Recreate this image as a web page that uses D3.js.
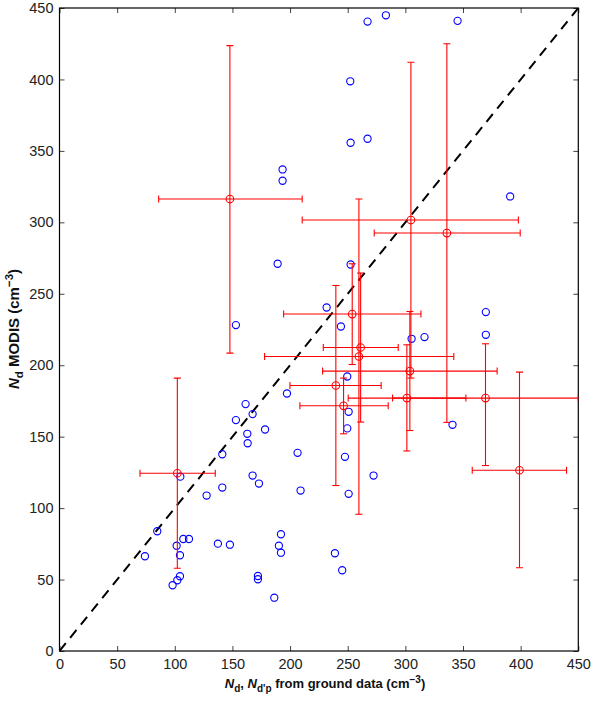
<!doctype html>
<html>
<head>
<meta charset="utf-8"/>
<title>Nd MODIS vs ground</title>
<script src="https://d3js.org/d3.v7.min.js"></script>
<style>
body{margin:0;background:#fff;}
.tick text{font-family:"Liberation Sans",Arial,Helvetica,sans-serif;font-size:14.5px;fill:#222;}
.lbl{font-family:"Liberation Sans",Arial,Helvetica,sans-serif;font-weight:bold;fill:#111;}
</style>
</head>
<body>
<script>
// ticks
var tickVals = [0,50,100,150,200,250,300,350,400,450];

// blue points: single retrievals
var blueX = [153,162.9,163.2,178.3,141.2,206.5,104.8,167.5,173,209.1,141.2,127.6,84.8,192.1,190.3,192.1,137.4,147.8,74.1,101.6,107.4,112.3,104.5,104.5,102.2,98.1,172.1,172.1,186.3,193.5,193.5,267.2,283.1,345.3,252.2,252.5,267.2,390.9,252.5,231.7,244.1,305.4,316.6,369.8,369.8,249.6,250.8,249.6,340.9,247.6,272.4,250.8,238.9,245.2,189.2,153,197.3,161.4,167.5];
var blueY = [161.6,152,145.4,155,137.7,138.7,122,122.8,117.2,112.3,114.4,108.8,83.8,81.7,73.7,68.8,75.1,74.4,66.3,73.7,78.4,78.4,67,52.3,49.5,46,52.5,50.2,37.3,337,329.1,440.5,444.9,441,398.7,355.7,358.5,318.1,270.5,240.4,227.1,218.5,219.7,237.2,221.3,192.1,167.4,155.8,158.3,135.9,122.8,110,68.4,56.5,271,228.1,180.2,172.8,165.8];

// red points: means with error bars
var redX   = [102.2,147.8,304.8,336,253.9,261.2,259.7,303.9,239.7,246.4,301.3,369.5,399];
var redY   = [124.4,316.3,301.6,292.5,235.8,212.4,206.1,195.9,185.8,171.6,177,177,126.5];
var redXLo = [69.8,86,210.5,273,194.4,228.8,177.9,228.2,199.9,208.5,250.4,288.9,358];
var redXHi = [135.1,210.5,398,399.6,313.5,293.8,342,379.6,279,285.1,352.5,450,439.8];
var redYLo = [57.9,208.5,191,160,200.5,160.2,95.7,154.3,115.8,152,140,129.8,58.3];
var redYHi = [191,423.7,412,425,271,264.5,316.3,237.6,255.8,191,214.3,215,195.2];

var W = 593, H = 701;
var m = {left:59.5, right:14.7, top:8, bottom:50};
var pw = W - m.left - m.right, ph = H - m.top - m.bottom;

var svg = d3.select("body").append("svg")
    .attr("width", W)
    .attr("height", H);

var g = svg.append("g").attr("transform", "translate(" + m.left + "," + m.top + ")");

var x = d3.scaleLinear().domain([0,450]).range([0,pw]);
var y = d3.scaleLinear().domain([0,450]).range([ph,0]);

// axes, ticks pointing inward
g.append("g").attr("transform","translate(0,"+ph+")")
    .call(d3.axisBottom(x).tickValues(tickVals).tickSize(-5).tickSizeOuter(0).tickPadding(8));
g.append("g")
    .call(d3.axisLeft(y).tickValues(tickVals).tickSize(-5).tickSizeOuter(0).tickPadding(6));
g.append("g")
    .call(d3.axisTop(x).tickValues(tickVals).tickSize(-5).tickSizeOuter(0).tickFormat(""));
g.append("g").attr("transform","translate("+pw+",0)")
    .call(d3.axisRight(y).tickValues(tickVals).tickSize(-5).tickSizeOuter(0).tickFormat(""));
g.selectAll(".domain").remove();
g.selectAll(".tick line").attr("stroke","#444");

g.append("rect")
    .attr("x",0).attr("y",0).attr("width",pw).attr("height",ph)
    .attr("fill","none").attr("stroke","#000").attr("stroke-width",1.2);

var clip = svg.append("defs").append("clipPath").attr("id","plotclip");
clip.append("rect").attr("x",0).attr("y",0).attr("width",pw).attr("height",ph);

var p = g.append("g").attr("clip-path","url(#plotclip)");

// 1:1 line
p.append("line")
    .attr("x1", x(0)).attr("y1", y(0))
    .attr("x2", x(450)).attr("y2", y(450))
    .attr("stroke","#000").attr("stroke-width",2)
    .attr("stroke-dasharray","10,7");

// blue circles
p.selectAll("circle.blue")
    .data(blueX)
    .enter()
    .append("circle")
    .attr("class","blue")
    .attr("cx", function(d,i){ return x(blueX[i]); })
    .attr("cy", function(d,i){ return y(blueY[i]); })
    .attr("r", 3.6)
    .attr("fill","none")
    .attr("stroke","#0000ff")
    .attr("stroke-width",1.1);

// red error bars
var cap = 3.5;
var eb = p.selectAll("g.err")
    .data(redX)
    .enter()
    .append("g")
    .attr("class","err")
    .attr("stroke","#ff0000")
    .attr("stroke-width",1.1)
    .attr("fill","none");

eb.append("line")
    .attr("x1", function(d,i){ return x(redXLo[i]); })
    .attr("x2", function(d,i){ return x(redXHi[i]); })
    .attr("y1", function(d,i){ return y(redY[i]); })
    .attr("y2", function(d,i){ return y(redY[i]); });
eb.append("line")
    .attr("x1", function(d,i){ return x(redX[i]); })
    .attr("x2", function(d,i){ return x(redX[i]); })
    .attr("y1", function(d,i){ return y(redYLo[i]); })
    .attr("y2", function(d,i){ return y(redYHi[i]); });
// caps
[redXLo, redXHi].forEach(function(arr){
  eb.append("line")
    .attr("x1", function(d,i){ return x(arr[i]); })
    .attr("x2", function(d,i){ return x(arr[i]); })
    .attr("y1", function(d,i){ return y(redY[i]) - cap; })
    .attr("y2", function(d,i){ return y(redY[i]) + cap; });
});
[redYLo, redYHi].forEach(function(arr){
  eb.append("line")
    .attr("x1", function(d,i){ return x(redX[i]) - cap; })
    .attr("x2", function(d,i){ return x(redX[i]) + cap; })
    .attr("y1", function(d,i){ return y(arr[i]); })
    .attr("y2", function(d,i){ return y(arr[i]); });
});
eb.append("circle")
    .attr("cx", function(d,i){ return x(redX[i]); })
    .attr("cy", function(d,i){ return y(redY[i]); })
    .attr("r", 3.8);

// axis titles
var xl = svg.append("text").attr("class","lbl")
    .attr("x", 325).attr("y", 688)
    .attr("text-anchor","middle")
    .style("font-size","13px");
xl.append("tspan").attr("font-style","italic").text("N");
xl.append("tspan").attr("dy",4).style("font-size","10px").text("d");
xl.append("tspan").attr("dy",-4).text(", ");
xl.append("tspan").attr("font-style","italic").text("N");
xl.append("tspan").attr("dy",4).style("font-size","10px").text("d'p");
xl.append("tspan").attr("dy",-4).text(" from ground data (cm");
xl.append("tspan").attr("dy",-5).style("font-size","10px").text("\u22123");
xl.append("tspan").attr("dy",5).text(")");

var yl = svg.append("text").attr("class","lbl")
    .attr("transform","translate(19,329) rotate(-90)")
    .attr("text-anchor","middle")
    .style("font-size","15px");
yl.append("tspan").attr("font-style","italic").text("N");
yl.append("tspan").attr("dy",4).style("font-size","11.5px").text("d");
yl.append("tspan").attr("dy",-4).text(" MODIS (cm");
yl.append("tspan").attr("dy",-6).style("font-size","11.5px").text("\u22123");
yl.append("tspan").attr("dy",6).text(")");
</script>
</body>
</html>
